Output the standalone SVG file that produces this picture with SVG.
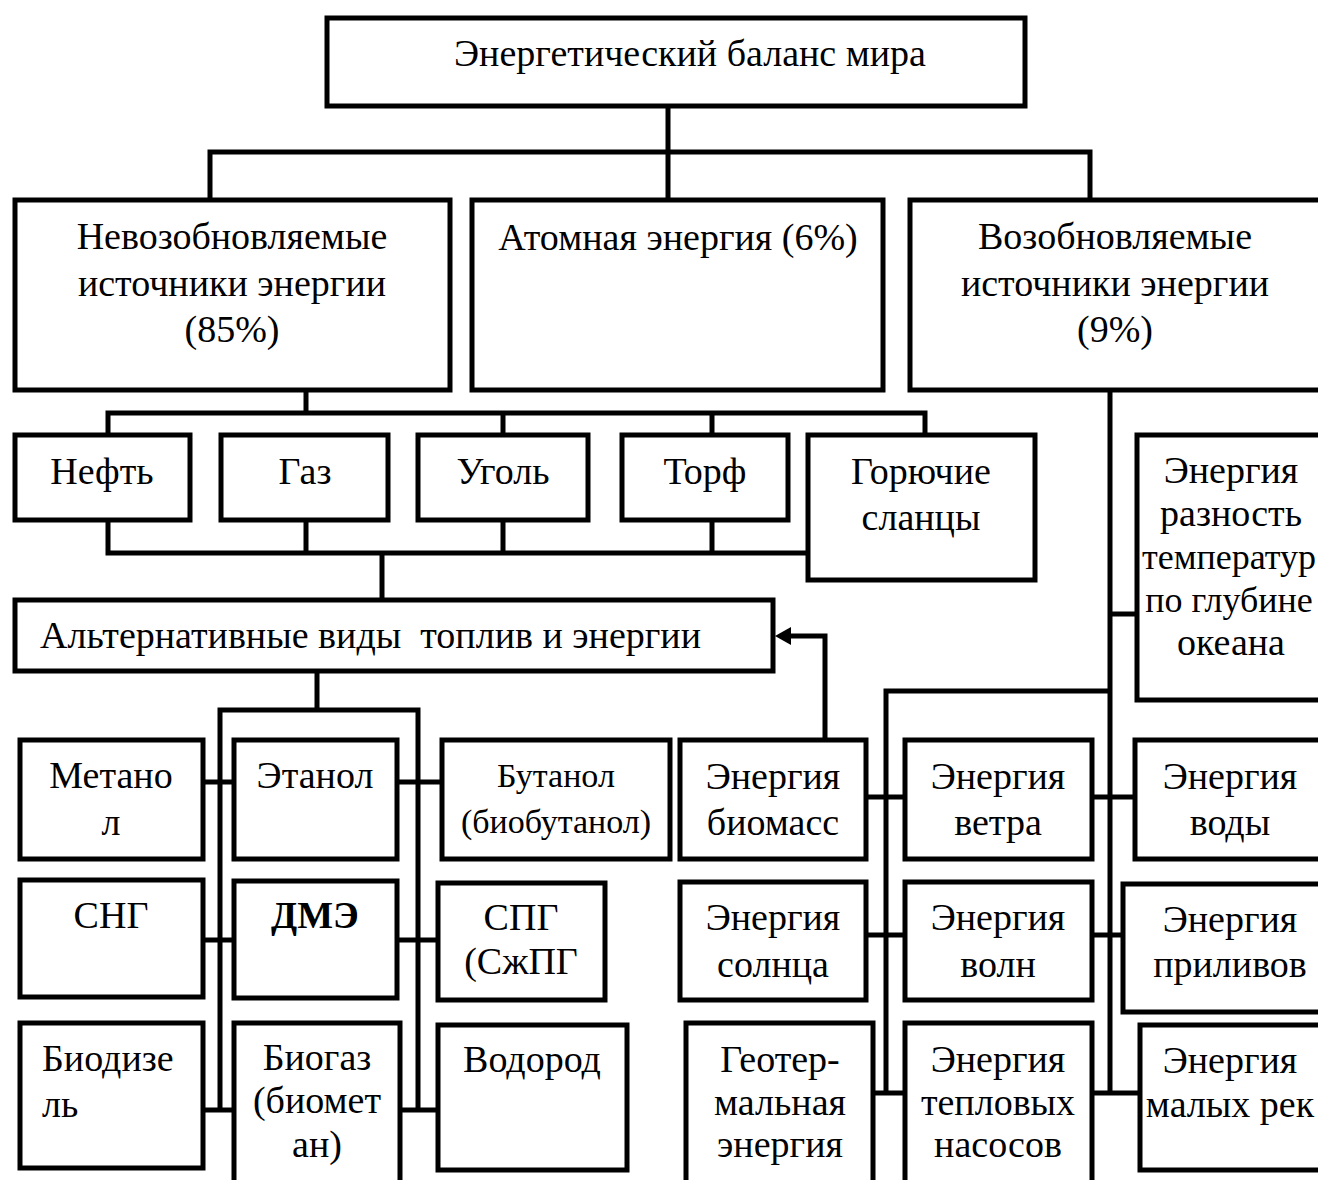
<svg xmlns="http://www.w3.org/2000/svg" width="1318" height="1180" viewBox="0 0 1318 1180">
<style>
.b{fill:#fff;stroke:#000;stroke-width:5}
.c{fill:none;stroke:#000;stroke-width:5}
text{font-family:"Liberation Serif","Times New Roman",serif;font-size:38px;fill:#000;text-anchor:middle}
.s{font-size:34px}
.t{font-size:36px}
.l{text-anchor:start}
.bold{font-weight:bold}
</style>
<rect width="1318" height="1180" fill="#fff"/>
<g id="connectors">
<path class="c" d="M668,106V198M210,198V152H1090V198"/>
<path class="c" d="M306,390V413M108,435V413H925V435M503,413V435M712,413V435"/>
<path class="c" d="M108,520V553H808M306,520V553M503,520V553M712,520V553M382,553V600"/>
<path class="c" d="M317,671V710M220,1110V710H418V1110"/>
<path class="c" d="M203,782H234M397,782H442M203,940H234M397,940H438M203,1110H234M400,1110H438"/>
<path class="c" d="M1110,390V1093M1110,614H1137M886,1093V691H1110"/>
<path class="c" d="M866,797H905M1092,797H1135M866,935H905M1092,935H1140M873,1093H905M1092,1093H1140"/>
<path class="c" d="M825,740V636H788"/>
<polygon points="775,636 791,627 791,645" fill="#000"/>
</g>
<g id="n-top"><rect class="b" x="327" y="18" width="698" height="88"/><text x="690" y="66">Энергетический баланс мира</text></g>
<g id="n-nonrenew"><rect class="b" x="15" y="200" width="435" height="190"/><text x="232" y="249">Невозобновляемые</text><text x="232" y="296">источники энергии</text><text x="232" y="342">(85%)</text></g>
<g id="n-atom"><rect class="b" x="472" y="200" width="411" height="190"/><text x="678" y="250">Атомная энергия (6%)</text></g>
<g id="n-renew"><rect class="b" x="910" y="200" width="420" height="190"/><text x="1115" y="249">Возобновляемые</text><text x="1115" y="296">источники энергии</text><text x="1115" y="342">(9%)</text></g>
<g id="n-oil"><rect class="b" x="15" y="435" width="175" height="85"/><text x="102" y="484">Нефть</text></g>
<g id="n-gas"><rect class="b" x="221" y="435" width="167" height="85"/><text x="305" y="484">Газ</text></g>
<g id="n-coal"><rect class="b" x="418" y="435" width="170" height="85"/><text x="503" y="484">Уголь</text></g>
<g id="n-peat"><rect class="b" x="622" y="435" width="166" height="85"/><text x="705" y="484">Торф</text></g>
<g id="n-shale"><rect class="b" x="808" y="435" width="227" height="145"/><text x="921" y="484">Горючие</text><text x="921" y="530">сланцы</text></g>
<g id="n-alt"><rect class="b" x="15" y="600" width="758" height="71"/><text class="l" x="40" y="648" xml:space="preserve">Альтернативные виды  топлив и энергии</text></g>
<g id="n-methanol"><rect class="b" x="20" y="740" width="183" height="119"/><text x="111" y="788">Метано</text><text x="111" y="835">л</text></g>
<g id="n-ethanol"><rect class="b" x="234" y="740" width="163" height="119"/><text x="315" y="788">Этанол</text></g>
<g id="n-butanol"><rect class="b" x="442" y="740" width="228" height="119"/><text class="s" x="556" y="787">Бутанол</text><text class="s" x="556" y="833">(биобутанол)</text></g>
<g id="n-sng"><rect class="b" x="20" y="880" width="183" height="117"/><text x="111" y="928">СНГ</text></g>
<g id="n-dme"><rect class="b" x="234" y="881" width="163" height="117"/><text class="bold" x="315" y="928">ДМЭ</text></g>
<g id="n-lpg"><rect class="b" x="438" y="883" width="167" height="117"/><text x="521" y="930">СПГ</text><text x="521" y="974">(СжПГ</text></g>
<g id="n-biodiesel"><rect class="b" x="20" y="1023" width="183" height="145"/><text class="l" x="42" y="1071">Биодизе</text><text class="l" x="42" y="1117">ль</text></g>
<g id="n-biogas"><rect class="b" x="234" y="1023" width="166" height="170"/><text x="317" y="1070">Биогаз</text><text x="317" y="1113">(биомет</text><text x="317" y="1157">ан)</text></g>
<g id="n-hydrogen"><rect class="b" x="438" y="1025" width="189" height="145"/><text x="532" y="1072">Водород</text></g>
<g id="n-ocean"><rect class="b" x="1137" y="435" width="200" height="265"/><text x="1231" y="483">Энергия</text><text x="1231" y="526">разность</text><text class="t" x="1229" y="569">температур</text><text class="t" x="1229" y="612">по глубине</text><text x="1231" y="655">океана</text></g>
<g id="n-biomass"><rect class="b" x="680" y="740" width="186" height="119"/><text x="773" y="789">Энергия</text><text x="773" y="835">биомасс</text></g>
<g id="n-wind"><rect class="b" x="905" y="740" width="187" height="119"/><text x="998" y="789">Энергия</text><text x="998" y="835">ветра</text></g>
<g id="n-water"><rect class="b" x="1135" y="740" width="200" height="119"/><text x="1230" y="789">Энергия</text><text x="1230" y="835">воды</text></g>
<g id="n-solar"><rect class="b" x="680" y="882" width="186" height="118"/><text x="773" y="930">Энергия</text><text x="773" y="977">солнца</text></g>
<g id="n-waves"><rect class="b" x="905" y="882" width="187" height="118"/><text x="998" y="930">Энергия</text><text x="998" y="977">волн</text></g>
<g id="n-tides"><rect class="b" x="1123" y="884" width="210" height="128"/><text x="1230" y="932">Энергия</text><text x="1230" y="977">приливов</text></g>
<g id="n-geo"><rect class="b" x="686" y="1023" width="187" height="170"/><text x="780" y="1072">Геотер-</text><text x="780" y="1115">мальная</text><text x="780" y="1157">энергия</text></g>
<g id="n-heatpump"><rect class="b" x="905" y="1023" width="187" height="170"/><text x="998" y="1072">Энергия</text><text x="998" y="1115">тепловых</text><text x="998" y="1157">насосов</text></g>
<g id="n-rivers"><rect class="b" x="1140" y="1025" width="195" height="145"/><text x="1230" y="1073">Энергия</text><text x="1230" y="1117">малых рек</text></g>
</svg>
